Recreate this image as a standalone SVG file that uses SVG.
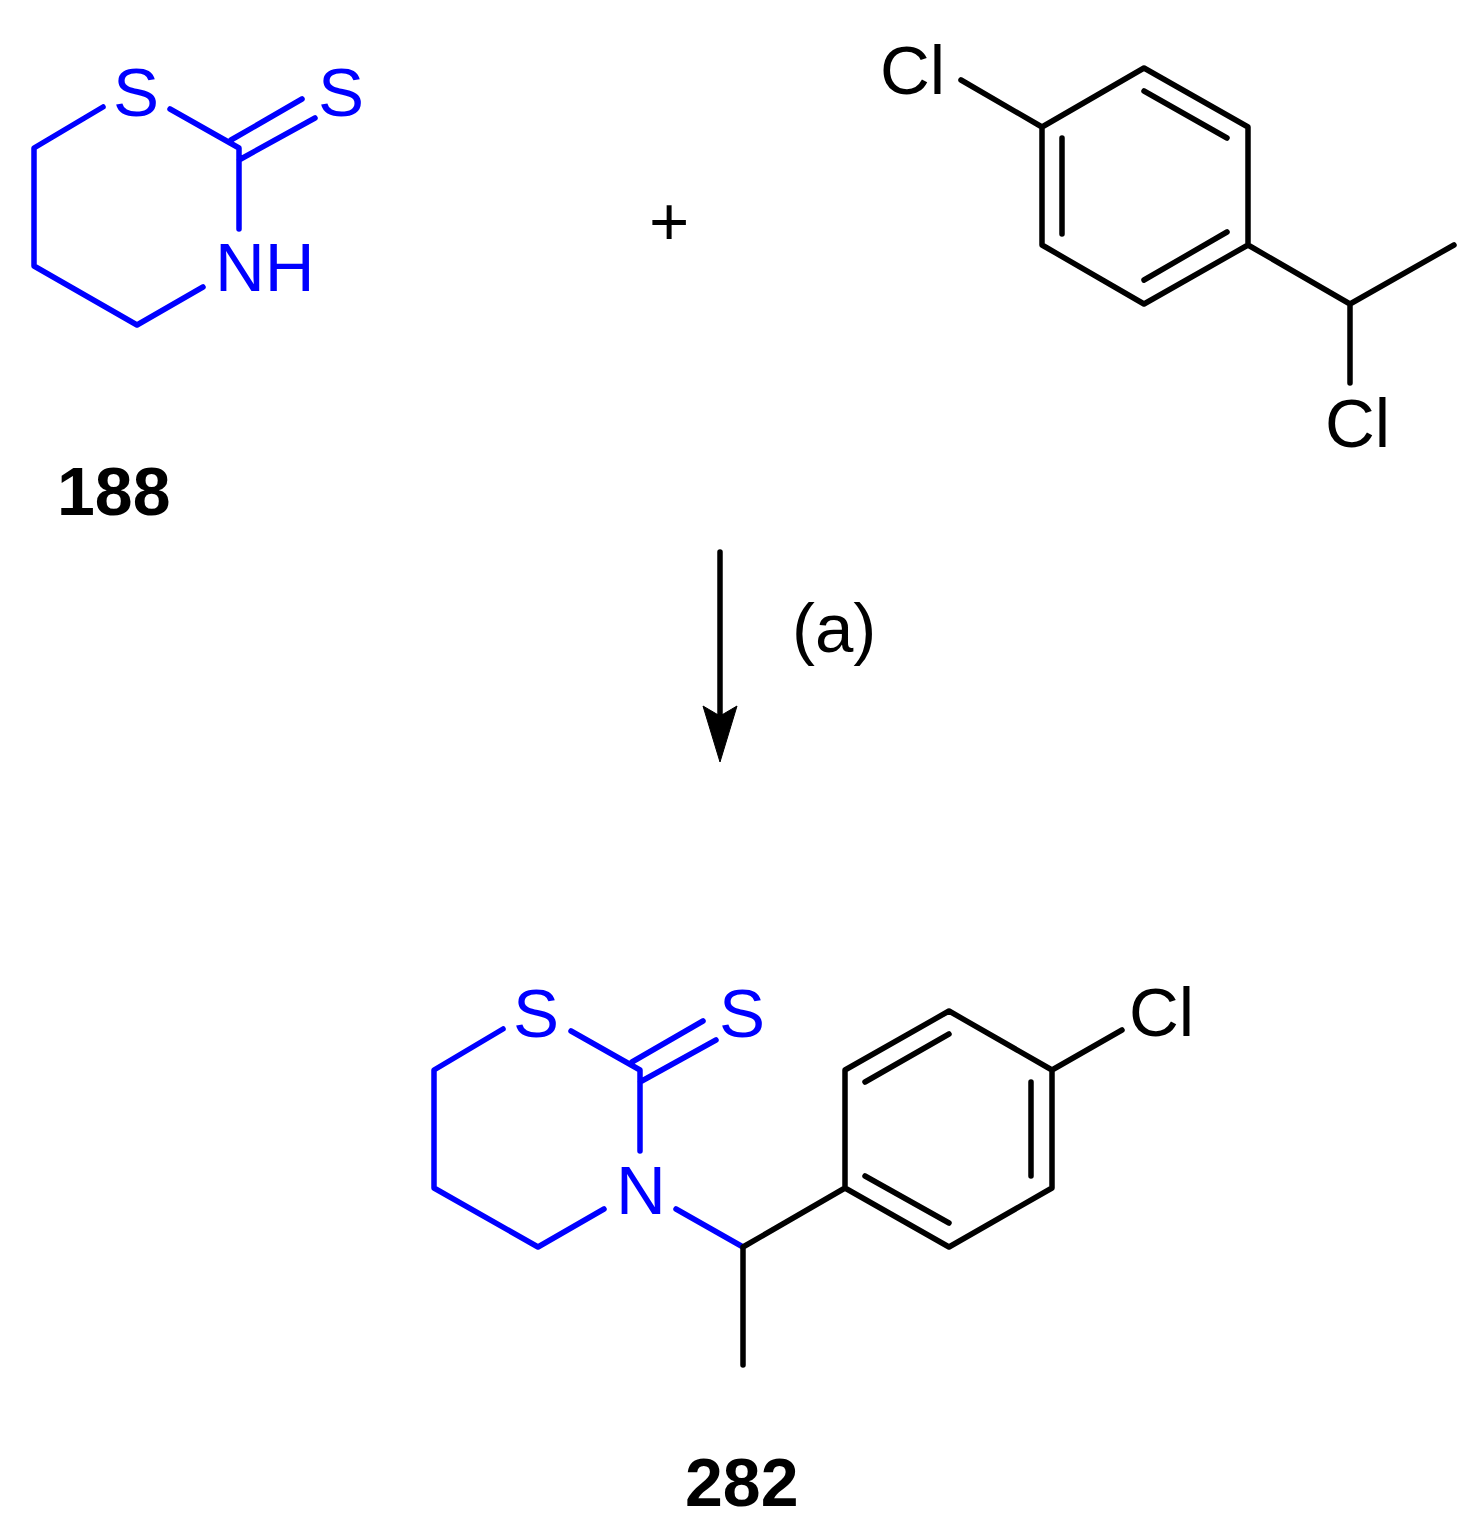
<svg xmlns="http://www.w3.org/2000/svg" width="1473" height="1528" viewBox="0 0 1473 1528">
<style>
.b{fill:none;stroke:#0000ff;stroke-width:5.5;stroke-linecap:round;stroke-linejoin:round}
.k{fill:none;stroke:#000;stroke-width:5.5;stroke-linecap:round;stroke-linejoin:round}
.a{font-family:"Liberation Sans",Arial,sans-serif;font-size:69px}
.bl{fill:#0000ff}
.t{font-family:"Liberation Sans",Arial,sans-serif;font-size:68px;font-weight:bold;fill:#000}
</style>
<rect width="1473" height="1528" fill="#fff"/>
<g id="compound-188">
<path class="b" d="M103 107L34 148V266L137 325L203 287M170 109L239 148V229M231 140L302 99M239 160L315 118"/>
<text class="a bl" x="113" y="116">S</text>
<text class="a bl" x="318" y="116">S</text>
<text class="a bl" x="215" y="291">NH</text>
</g>
<g id="label-188"><text class="t" x="57" y="515">188</text></g>
<g id="plus"><text class="a" x="649" y="245">+</text></g>
<g id="chloroethylbenzene">
<path class="k" d="M961 80L1042 127L1144 68L1248 127V245L1144 304L1042 245V127M1062 138V234M1144 91L1227 138M1144 280L1227 232M1248 245L1350 304L1454 245M1350 304V383"/>
<text class="a" x="880" y="94">Cl</text>
<text class="a" x="1325" y="447">Cl</text>
</g>
<g id="connectors">
<path class="k" d="M720 552V720"/>
<path d="M720 762L703 706L720 716L737 706Z" fill="#000" stroke="#000" stroke-width="1" stroke-linejoin="round"/>
</g>
<g id="label-a"><text class="a" x="792" y="652">(a)</text></g>
<g id="compound-282">
<path class="b" d="M503 1029L434 1070V1188L538 1247L604 1209M571 1031L640 1070V1151M632 1062L703 1021M640 1082L716 1040M676 1209L743 1247"/>
<path class="k" d="M743 1247L845 1188V1070L949 1011L1052 1070V1188L949 1247L845 1188M865 1082L949 1034M1031 1082V1176M949 1223L865 1176M1052 1070L1122 1030M743 1247V1365"/>
<text class="a bl" x="513" y="1037">S</text>
<text class="a bl" x="719" y="1037">S</text>
<text class="a bl" x="616" y="1214">N</text>
<text class="a" x="1129" y="1036">Cl</text>
</g>
<g id="label-282"><text class="t" x="685" y="1506">282</text></g>
</svg>
